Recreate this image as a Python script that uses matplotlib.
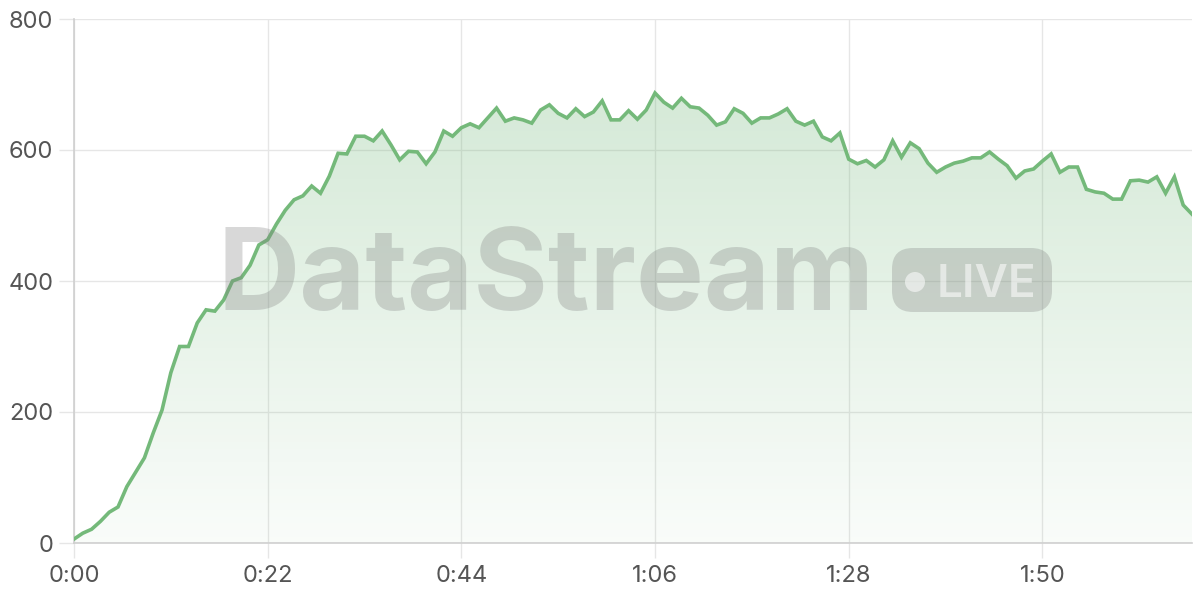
import numpy as np
import matplotlib
matplotlib.use("Agg")
import matplotlib.pyplot as plt
from matplotlib.patches import FancyBboxPatch, Circle
from matplotlib.colors import LinearSegmentedColormap

# viewers per second
seconds = list(range(128))
viewers = [
    6, 15, 21, 33, 47, 55, 86, 108, 130, 168,
    203, 260, 300, 300, 336, 356, 354, 371, 400, 405,
    424, 455, 463, 487, 508, 524, 530, 545, 534, 560,
    595, 594, 621, 621, 614, 629, 608, 585, 598, 597,
    579, 597, 629, 621, 634, 640, 634, 649, 664, 644,
    649, 646, 641, 661, 669, 656, 649, 663, 651, 658,
    675, 646, 646, 660, 647, 661, 687, 673, 664, 679,
    666, 664, 653, 638, 643, 663, 656, 641, 649, 649,
    655, 663, 644, 638, 644, 620, 614, 626, 586, 579,
    584, 574, 585, 614, 589, 611, 602, 580, 566, 574,
    580, 583, 588, 588, 597, 586, 576, 557, 568, 571,
    583, 594, 566, 574, 574, 540, 536, 534, 525, 525,
    553, 554, 551, 559, 534, 559, 516, 502,
]
x_ticks = [0, 22, 44, 66, 88, 110]
y_ticks = [0, 200, 400, 600, 800]

line_color = "#74b97a"
grid_color = "#e6e6e6"

fig = plt.figure(figsize=(12, 6), dpi=100)
ax = fig.add_axes([74 / 1200, 1 - 543 / 600, (1192 - 74) / 1200, (543 - 19) / 600])

x = np.array(seconds)
y = np.array(viewers)

# gradient fill under the line
poly = ax.fill_between(x, 0, y, color="none", lw=0)
cmap = LinearSegmentedColormap.from_list("g", [(0.45, 0.72, 0.48, 0.04), (0.45, 0.72, 0.48, 0.30)])
grad = np.linspace(0, 1, 256).reshape(-1, 1)
img = ax.imshow(grad, cmap=cmap, aspect="auto", origin="lower",
                extent=[x.min(), x.max(), 0, y.max()], zorder=1)
img.set_clip_path(poly.get_paths()[0], transform=ax.transData)

ax.plot(x, y, color=line_color, lw=2.6, zorder=3, solid_joinstyle="miter")

ax.set_xlim(0, 127)
ax.set_ylim(0, 800)
ax.set_xticks(x_ticks)
ax.set_xticklabels([f"{t // 60}:{t % 60:02d}" for t in x_ticks])
ax.set_yticks(y_ticks)
ax.grid(True, color=grid_color, lw=1, zorder=0)
ax.set_axisbelow(True)
for s in ["top", "right"]:
    ax.spines[s].set_visible(False)
for s in ["left", "bottom"]:
    ax.spines[s].set_color("#cfcfcf")
    ax.spines[s].set_linewidth(1.2)
ax.tick_params(axis="both", length=11, color=grid_color, width=1,
               labelsize=17, labelcolor="#555555")
ax.tick_params(axis="x", pad=5)
ax.tick_params(axis="y", pad=4)
for lab in ax.get_xticklabels() + ax.get_yticklabels():
    lab.set_family("Inter")

# watermark
fig.text(546 / 1200, 1 - 310 / 600, "DataStream", fontsize=82, fontweight="bold",
         family="Inter", color="#808080", alpha=0.3, ha="center", va="baseline", zorder=5)
badge = FancyBboxPatch((892 / 1200, 1 - 312 / 600), 160 / 1200, 64 / 600,
                       boxstyle="round,pad=0,rounding_size=0.0175",
                       transform=fig.transFigure, facecolor="#808080", alpha=0.3,
                       edgecolor="none", zorder=5, mutation_aspect=2)
fig.patches.append(badge)
dot = Circle((9.15, 6 - 2.82), 0.1, transform=fig.dpi_scale_trans,
             facecolor="white", alpha=0.55, edgecolor="none", zorder=6)
fig.patches.append(dot)
fig.text(986 / 1200, 1 - 297 / 600, "LIVE", fontsize=33, fontweight="semibold", color="white",
         alpha=0.55, family="Inter", ha="center", va="baseline", zorder=6)

fig.savefig("out.png", dpi=100)
